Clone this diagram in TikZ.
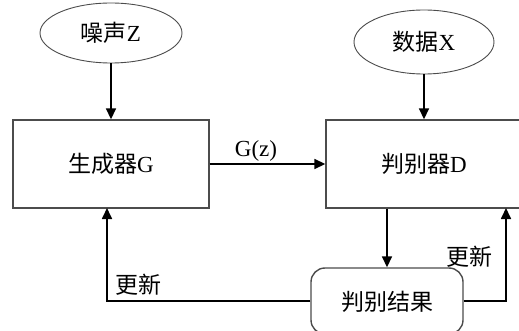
\documentclass[tikz,border=0pt]{standalone}
\usepackage{fontspec}
\setmainfont{Liberation Serif}
\newfontfamily\cjk{Noto Sans CJK SC}
\usetikzlibrary{arrows.meta,shapes.geometric,positioning}
\begin{document}
\begin{tikzpicture}[x=1pt,y=-1pt,
  every node/.style={font=\fontsize{23}{27}\selectfont, inner sep=0pt},
  ell/.style={ellipse, draw=black!70, line width=0.9pt},
  blk/.style={rectangle, draw=black!70, line width=1.4pt, minimum width=196pt, minimum height=88pt},
  res/.style={rectangle, rounded corners=14pt, draw=black!70, line width=1.4pt, minimum width=152pt, minimum height=66pt},
  arr/.style={line width=1.7pt, -{Triangle[length=11pt,width=10pt]}}]
\useasboundingbox (0,0) rectangle (519,331);
\fill[white] (0,0) rectangle (519,331);
\node[ell, minimum width=142pt, minimum height=60pt] (z) at (111,33) {\cjk 噪声\rmfamily Z};
\node[ell, minimum width=140pt, minimum height=64pt] (x) at (424,42) {\cjk 数据\rmfamily X};
\node[blk] (g) at (111,164) {};
\node at (111,164) {\cjk 生成器\rmfamily G};
\node[blk] (d) at (424,164) {};
\node at (424,164) {\cjk 判别器\rmfamily D};
\node[res] (r) at (387,301) {};
\node at (387,302) {\cjk 判别结果};
\coordinate (gin) at (107,208);
\coordinate (din) at (506,208);
\draw[arr] (z.south) -- (g.north);
\draw[arr] (x.south) -- (d.north);
\draw[arr] (g.east) -- (d.west);
\node (gz) at (256,151) {G(z)};
\draw[arr] (r.north |- d.south) -- (r.north);
\draw[arr] (r.west) -| (gin);
\draw[arr] (r.east) -| (din);
\node (u1) at (138,285) {\cjk 更新};
\node (u2) at (469,257) {\cjk 更新};
\end{tikzpicture}
\end{document}
